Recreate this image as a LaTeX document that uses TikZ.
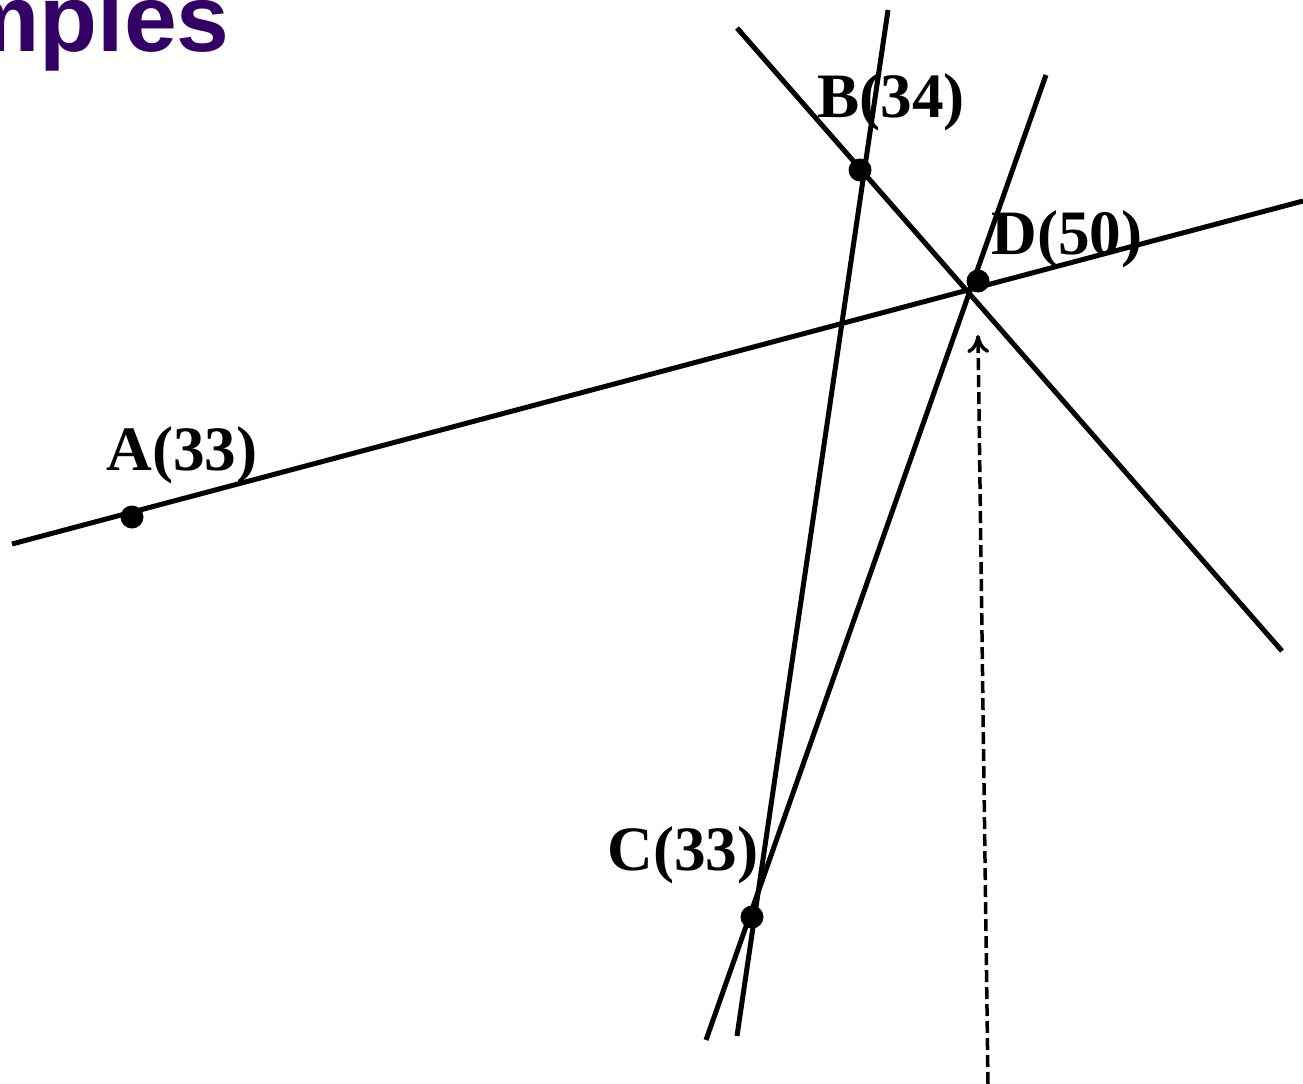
\documentclass[tikz,border=0pt]{standalone}
\usepackage{fontspec}
\setmainfont{Liberation Serif}
\newfontfamily\headfont{Liberation Sans}
\usetikzlibrary{arrows.meta,positioning}
\definecolor{plum}{RGB}{51,0,102}
\tikzset{
  >={To[length=3.6mm,width=4.4mm]},
  ray/.style={line width=1mm},
  dot/.style={circle,fill=black,inner sep=0pt,minimum size=4.6mm},
  tag/.style={font=\bfseries\fontsize{36}{36}\selectfont,inner sep=0pt,anchor=base west},
  probe/.style={->,line width=0.7mm,dash pattern=on 2.4mm off 1mm},
}

\begin{document}
\begin{tikzpicture}[x=0.2mm,y=-0.2mm]
  \useasboundingbox (0,0) rectangle (1303,1084);
  \clip (0,0) rectangle (1303,1084);
  % heading, cut at the left edge
  \node[anchor=base east,inner sep=0pt,text=plum,font=\headfont\bfseries\fontsize{54}{54}\selectfont] (title) at (230,52) {Examples};

  % points
  \node[dot] (A) at (132,517) {};
  \node[dot] (B) at (860,170) {};
  \node[dot] (C) at (752,917) {};
  \node[dot] (D) at (978,281) {};
  \node[tag] (At) at (106,470) {A(33)};
  \node[tag] (Bt) at (817,118) {B(34)};
  \node[tag] (Ct) at (607,870) {C(33)};
  \node[tag] (Dt) at (991,255) {D(50)};

  % ends of the lines
  \coordinate (ad1) at (12,544);   \coordinate (ad2) at (1303,201);
  \coordinate (bd1) at (737,28);   \coordinate (bd2) at (1282,651);
  \coordinate (bc1) at (888,10);   \coordinate (bc2) at (737,1036);
  \coordinate (cd1) at (1046,75);  \coordinate (cd2) at (706,1040);
  \coordinate (foot) at (988,1084); \coordinate (tip) at (978,335);

  \draw[ray] (ad1) -- (ad2);
  \draw[ray] (bd1) -- (bd2);
  \draw[ray] (bc1) -- (bc2);
  \draw[ray] (cd1) -- (cd2);
  \draw[probe] (foot) -- (tip);
\end{tikzpicture}
\end{document}
